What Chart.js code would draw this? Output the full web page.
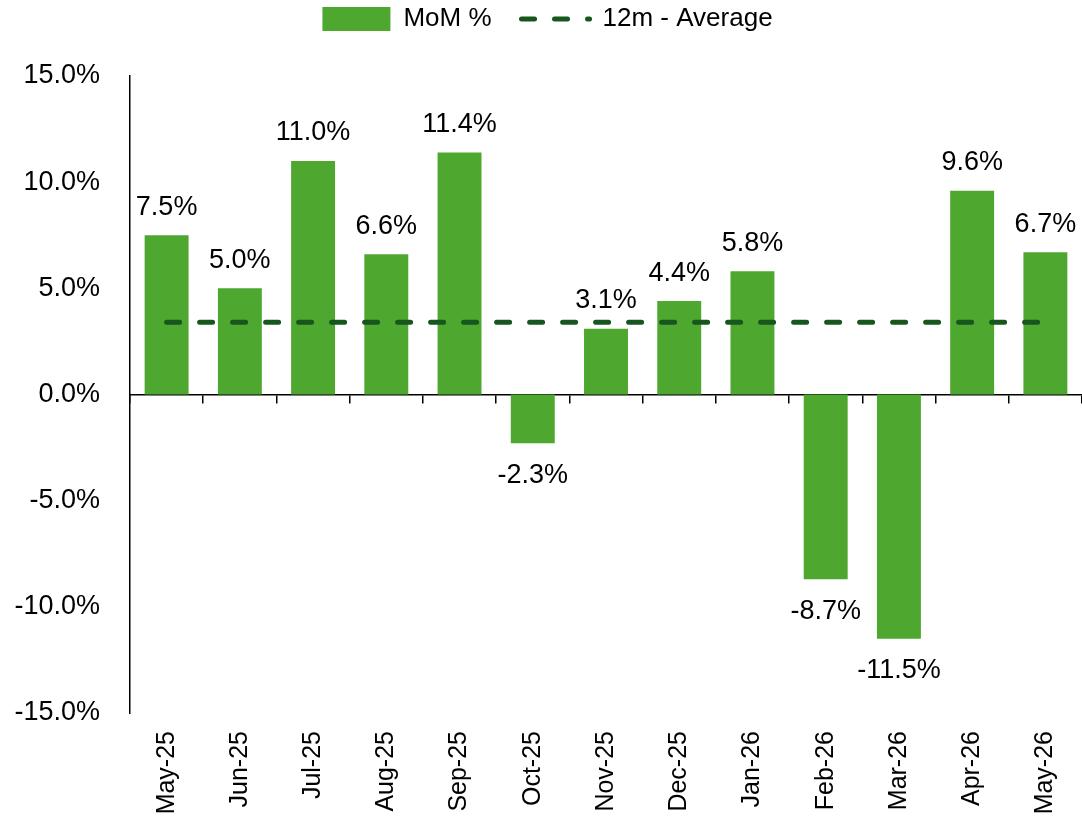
<!DOCTYPE html>
<html>
<head>
<meta charset="utf-8">
<script src="https://cdn.jsdelivr.net/npm/chart.js@4"></script>
<style>
  html, body { margin: 0; padding: 0; background: #fff; }
  #wrap { width: 1082px; height: 828px; }
</style>
</head>
<body>
<div id="wrap"><canvas id="myChart"></canvas></div>
<script>
var months = ['May-25', 'Jun-25', 'Jul-25', 'Aug-25', 'Sep-25', 'Oct-25', 'Nov-25',
  'Dec-25', 'Jan-26', 'Feb-26', 'Mar-26', 'Apr-26', 'May-26'];
var momPct = [7.5, 5.0, 11.0, 6.6, 11.4, -2.3, 3.1, 4.4, 5.8, -8.7, -11.5, 9.6, 6.7];
var avg12m = [3.4, 3.4, 3.4, 3.4, 3.4, 3.4, 3.4, 3.4, 3.4, 3.4, 3.4, 3.4, 3.4];
var yTicks = [-15, -10, -5, 0, 5, 10, 15];

var FONT = '"Liberation Sans", Arial, sans-serif';
Chart.defaults.font.family = FONT;
Chart.defaults.color = '#000';

// value labels over / under the bars
var barLabels = {
  id: 'barLabels',
  afterDatasetsDraw(chart) {
    var ctx = chart.ctx;
    var meta = chart.getDatasetMeta(0);
    ctx.save();
    ctx.font = '27px ' + FONT;
    ctx.fillStyle = '#000';
    ctx.textAlign = 'center';
    ctx.textBaseline = 'middle';
    meta.data.forEach(function (bar, i) {
      var v = momPct[i];
      var y = v >= 0 ? bar.y - 28 : bar.y + 32;
      ctx.fillText(v.toFixed(1) + '%', bar.x, y);
    });
    ctx.restore();
  }
};

// leave room between legend and plot
var legendGap = {
  id: 'legendGap',
  beforeInit(chart) {
    var fit = chart.legend.fit;
    chart.legend.fit = function () {
      fit.bind(chart.legend)();
      this.height = 100;
    };
  }
};

new Chart(document.getElementById('myChart'), {
  type: 'bar',
  data: {
    labels: months,
    datasets: [{
      label: 'MoM %',
      data: momPct,
      backgroundColor: '#4ea72e',
      borderWidth: 0,
      barPercentage: 0.6,
      categoryPercentage: 1.0,
      order: 1
    }, {
      type: 'line',
      label: '12m - Average',
      data: avg12m,
      borderColor: '#17561f',
      backgroundColor: '#17561f',
      borderWidth: 5,
      borderDash: [13, 20],
      borderCapStyle: 'round',
      pointRadius: 0,
      order: 0
    }]
  },
  options: {
    responsive: true,
    maintainAspectRatio: false,
    animation: false,
    layout: { padding: { left: 10, right: -3, top: -24, bottom: 14 } },
    plugins: {
      legend: {
        display: true,
        position: 'top',
        labels: {
          font: { size: 26 },
          usePointStyle: true,
          pointStyleWidth: 68,
          boxHeight: 24,
          padding: 30,
          sort(a, b) { return a.datasetIndex - b.datasetIndex; },
          generateLabels(chart) {
            var items = Chart.defaults.plugins.legend.labels.generateLabels(chart);
            items.forEach(function (it) {
              it.pointStyle = it.datasetIndex === 1 ? 'line' : 'rect';
              if (it.datasetIndex === 1) { it.lineWidth = 5; it.lineDash = [13, 20]; it.lineCap = 'round'; }
            });
            return items;
          }
        }
      },
      tooltip: { enabled: false }
    },
    scales: {
      x: {
        position: 'bottom',
        grid: { display: false, drawTicks: false },
        border: { display: false },
        afterFit(axis) { axis.height = 101; axis.paddingLeft = 0; axis.paddingRight = 0; },
        ticks: {
          font: { size: 25 },
          maxRotation: 90,
          minRotation: 90,
          padding: 18
        }
      },
      xZero: {
        type: 'category',
        labels: months,
        position: { y: 0 },
        offset: true,
        afterFit(axis) { axis.paddingLeft = 0; axis.paddingRight = 0; },
        grid: { display: true, drawOnChartArea: false, offset: true, tickLength: 8, color: '#000', lineWidth: 1.5 },
        border: { display: true, color: '#000', width: 1.5 },
        ticks: { display: false }
      },
      y: {
        min: -15,
        max: 15,
        afterBuildTicks(axis) { axis.ticks = yTicks.map(function (v) { return { value: v }; }); },
        afterFit(axis) { axis.width = 120; },
        grid: { display: false, drawTicks: false },
        border: { display: true, color: '#000', width: 1.5 },
        ticks: {
          font: { size: 27 },
          padding: 30,
          callback(v) { return v.toFixed(1) + '%'; }
        }
      }
    }
  },
  plugins: [barLabels, legendGap]
});
</script>
</body>
</html>
